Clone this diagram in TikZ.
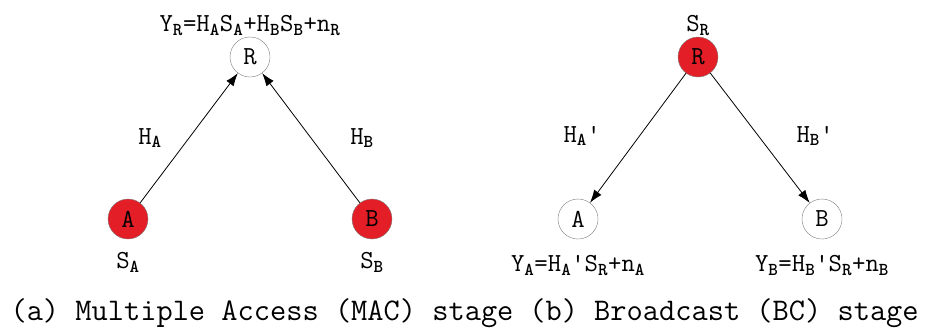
\documentclass[tikz,border=0pt]{standalone}
\usepackage{fontspec}
\usepackage{xcolor}
\usetikzlibrary{arrows.meta,positioning}
\definecolor{nodered}{RGB}{228,30,38}
\newcommand{\lo}[1]{\textsubscript{\textbf{#1}}}

\begin{document}
\begin{tikzpicture}[
            x=1pt, y=-1pt,
            every node/.style={font=\ttfamily\fontsize{26}{30}\selectfont},
            station/.style={circle, draw=gray, thin, minimum size=40pt, inner sep=0pt},
            sender/.style={station, fill=nodered},
            receiver/.style={station, fill=white},
            channel/.style={-{Latex[length=13pt,width=9pt]}, line width=0.8pt},
            caption/.style={font=\ttfamily\fontsize{31.5}{34}\selectfont}
        ]
        \useasboundingbox (0,0) rectangle (926,335);

        % (a) multiple access stage
        \node[receiver] (relayA) at (250,57) {R};
        \node[sender] (srcA) at (128,219) {A};
        \node[sender] (srcB) at (372,219) {B};

        \draw[channel] (srcA) -- (relayA);
        \draw[channel] (srcB) -- (relayA);

        \node (hA) at (150,138) {H\lo{A}};
        \node (hB) at (362,138) {H\lo{B}};
        \node (yR) [above=-2pt of relayA] {Y\lo{R}=H\lo{A}S\lo{A}+H\lo{B}S\lo{B}+n\lo{R}};
        \node (sA) [below=10pt of srcA] {S\lo{A}};
        \node (sB) [below=10pt of srcB] {S\lo{B}};

        % (b) broadcast stage
        \node[sender] (relayB) at (698,57) {R};
        \node[receiver] (dstA) at (578,219) {A};
        \node[receiver] (dstB) at (822,219) {B};

        \draw[channel] (relayB) -- (dstA);
        \draw[channel] (relayB) -- (dstB);

        \node (hA') at (582,136) {H\lo{A}'};
        \node (hB') at (815,136) {H\lo{B}'};
        \node (sR) [above=-2pt of relayB] {S\lo{R}};
        \node (yA) [below=13pt of dstA] {Y\lo{A}=H\lo{A}'S\lo{R}+n\lo{A}};
        \node (yB) [below=13pt of dstB] {Y\lo{B}=H\lo{B}'S\lo{R}+n\lo{B}};

        \node[caption] (capA) at (262,313) {(a) Multiple Access (MAC) stage};
        \node[caption] (capB) at (724,313) {(b) Broadcast (BC) stage};

    \end{tikzpicture}
\end{document}
